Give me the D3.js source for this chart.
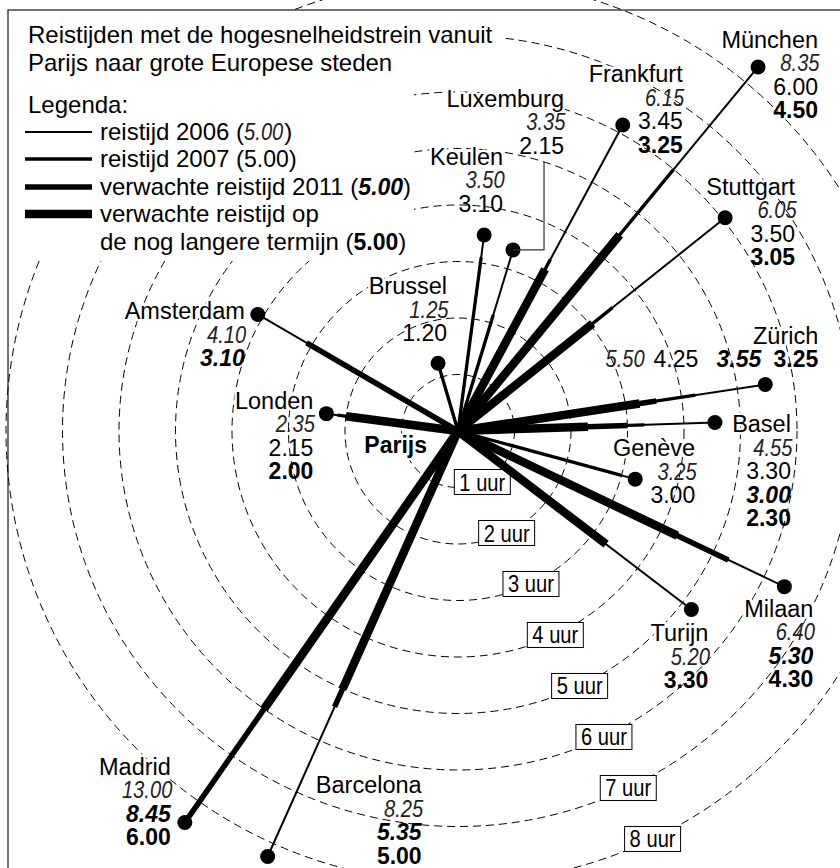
<!DOCTYPE html>
<html>
<head>
<meta charset="utf-8">
<script src="https://cdn.jsdelivr.net/npm/d3@7"></script>
<style>
  body { margin: 0; background: #fff; }
  text { font-family: "Liberation Sans", Arial, sans-serif; fill: #000; }
  .name { font-size: 23.5px; }
  .s2006 { font-style: italic; font-size: 24px; fill: #222; }
  .s2007 { font-size: 23px; }
  .s2011 { font-size: 23px; font-weight: bold; font-style: italic; }
  .slang { font-size: 23px; font-weight: bold; }
  .halo { stroke: #fff; stroke-width: 5px; paint-order: stroke; stroke-linejoin: round; }
  .uur { font-size: 24px; }
  .title { font-size: 24px; }
</style>
</head>
<body>
<div class="chart"></div>
<script>
// Steden en richting (graden, met de klok mee vanaf oost)
const cities = ["Londen", "Amsterdam", "Brussel", "Keulen", "Luxemburg", "Frankfurt", "München",
    "Stuttgart", "Zürich", "Basel", "Genève", "Turijn", "Milaan", "Barcelona", "Madrid"]
const richting = [-172.5, -149.8, -106.4, -82.4, -73.1, -61.7, -50.5,
    -38.6, -8.6, -1.9, 15.2, 37.4, 25.5, 114.1, 124.9]

// Reistijden (uren.minuten)
const reis2006 = [2.35, 4.10, 1.25, 3.50, 3.35, 6.15, 8.35, 6.05, 5.50, 4.55, 3.25, 5.20, 6.40, 8.25, 13.00]
const reis2007 = [2.15, null, 1.20, 3.10, 2.15, 3.45, 6.00, 3.50, 4.25, 3.30, 3.00, null, null, null, null]
const reis2011 = [null, 3.10, null, null, null, null, null, null, 3.55, 3.00, null, null, 5.30, 5.35, 8.45]
const reisLang = [2.00, null, null, null, null, 3.25, 4.50, 3.05, 3.25, 2.30, null, 3.30, 4.30, 5.00, 6.00]

// Cirkels
const uren = [1, 2, 3, 4, 5, 6, 7, 8]

// Label offsets ten opzichte van de stip (layout, geen data)
const labelLayout = {
    "Londen": [-13, -5], "Amsterdam": [-13, 5], "Brussel": [9, -69], "Keulen": [19, -70],
    "Luxemburg": [51, -143], "Frankfurt": [60, -43], "München": [60, -19], "Stuttgart": [70, -23],
    "Zürich": [53, -41], "Basel": [76, 10], "Genève": [60, -23], "Turijn": [17, 32],
    "Milaan": [29, 30], "Barcelona": [154, -63], "Madrid": [-14, -48]
}

const series = [
    { key: "s2006", vals: reis2006, w: 2 },
    { key: "s2007", vals: reis2007, w: 3.3 },
    { key: "s2011", vals: reis2011, w: 5.5 },
    { key: "slang", vals: reisLang, w: 8.5 }
]

const width = 840
const height = 868
const cx = 458
const cy = 431
const maxH = 9
const lineH = 23.5
const narrowK = 0.84
const fmt = d3.format(".2f")

const r = d3.scaleLinear().domain([0, 8]).range([0, 452])

function polar(h, deg) {
    const a = deg * Math.PI / 180
    return [cx + r(h) * Math.cos(a), cy + r(h) * Math.sin(a)]
}

const svg = d3.select('.chart')
    .append('svg')
    .attr('width', width)
    .attr('height', height)

// text squeezed horizontally, like a narrow face
function narrowText(x, y, cls, txt, anchor) {
    return svg.append('text')
        .attr('class', cls)
        .attr('x', x / narrowK).attr('y', y)
        .attr('transform', 'scale(' + narrowK + ',1)')
        .attr('text-anchor', anchor)
        .text(txt)
}

svg.append('rect')
    .attr('width', width).attr('height', height)
    .attr('fill', '#fff')

// frame
svg.append('rect')
    .attr('x', 8).attr('y', 10)
    .attr('width', 880).attr('height', 900)
    .attr('fill', 'none')
    .attr('stroke', '#444')
    .attr('stroke-width', 1.5)

// dashed circles
svg.append('g')
    .selectAll('circle')
    .data(uren)
    .enter()
    .append('circle')
    .attr('cx', cx).attr('cy', cy)
    .attr('r', d => r(d))
    .attr('fill', 'none')
    .attr('stroke', '#000')
    .attr('stroke-width', 1)
    .attr('stroke-dasharray', '8,5')

// white area behind title + legend
svg.append('rect').attr('x', 9).attr('y', 11).attr('width', 494).attr('height', 44).attr('fill', '#fff')
svg.append('rect').attr('x', 9).attr('y', 11).attr('width', 405).attr('height', 250).attr('fill', '#fff')

// hour labels
const uurG = svg.append('g')
    .selectAll('g')
    .data(uren)
    .enter()
    .append('g')
    .attr('transform', d => 'translate(' + polar(d, 64.5) + ')')

uurG.append('rect')
    .attr('x', -28).attr('y', -12.5)
    .attr('width', 56).attr('height', 25)
    .attr('fill', '#fff')
    .attr('stroke', '#000')
    .attr('stroke-width', 1)

uurG.append('text')
    .attr('class', 'uur')
    .attr('text-anchor', 'middle')
    .attr('y', 8.5)
    .attr('transform', 'scale(0.84,1)')
    .text(d => d + ' uur')

// lines per city
const lineG = svg.append('g')
series.forEach(function (s) {
    cities.forEach(function (c, i) {
        const v = s.vals[i]
        if (v == null || v > maxH) return
        const p = polar(v, richting[i])
        lineG.append('line')
            .attr('x1', cx).attr('y1', cy)
            .attr('x2', p[0]).attr('y2', p[1])
            .attr('stroke', '#000')
            .attr('stroke-width', s.w)
    })
})

// dots at the furthest value on the chart
const dotPos = cities.map(function (c, i) {
    const vals = series.map(s => s.vals[i]).filter(v => v != null && v <= maxH)
    return polar(d3.max(vals), richting[i])
})

svg.append('g')
    .selectAll('circle')
    .data(dotPos)
    .enter()
    .append('circle')
    .attr('cx', d => d[0])
    .attr('cy', d => d[1])
    .attr('r', 7.5)
    .attr('fill', '#000')

// Luxemburg leader
const lux = dotPos[cities.indexOf("Luxemburg")]
svg.append('path')
    .attr('d', 'M' + (lux[0] + 31) + ',' + (lux[1] - 88) + 'V' + lux[1] + 'H' + lux[0])
    .attr('fill', 'none')
    .attr('stroke', '#333')
    .attr('stroke-width', 1.2)

// city labels
cities.forEach(function (c, i) {
    const off = labelLayout[c]
    const x = dotPos[i][0] + off[0]
    const y = dotPos[i][1] + off[1]
    svg.append('text')
        .attr('class', 'name halo')
        .attr('x', x).attr('y', y)
        .attr('text-anchor', 'end')
        .text(c)
    const vals = series.filter(s => s.vals[i] != null)
    const rowX = [-175, -120, -57, 0]
    vals.forEach(function (s, j) {
        const tx = c == "Zürich" ? x + rowX[j] : x
        const ty = c == "Zürich" ? y + lineH : y + lineH * (j + 1)
        if (s.key == "s2006") {
            narrowText(tx + 1.5, ty, s.key, fmt(s.vals[i]), 'end')
        } else {
            svg.append('text')
                .attr('class', s.key)
                .attr('x', tx).attr('y', ty)
                .attr('text-anchor', 'end')
                .text(fmt(s.vals[i]))
        }
    })
})

svg.append('text')
    .attr('class', 'slang halo')
    .attr('x', cx - 31).attr('y', cy + 22)
    .attr('text-anchor', 'end')
    .text('Parijs')

// title
svg.append('text').attr('class', 'title').attr('x', 28).attr('y', 43)
    .text('Reistijden met de hogesnelheidstrein vanuit')
svg.append('text').attr('class', 'title').attr('x', 28).attr('y', 71)
    .text('Parijs naar grote Europese steden')
svg.append('text').attr('class', 'title').attr('x', 28).attr('y', 113)
    .text('Legenda:')

// legend
const legRows = [
    { y: 132, pre: 'reistijd 2006 (', post: ')' },
    { y: 159, pre: 'reistijd 2007 (', post: ')' },
    { y: 187, pre: 'verwachte reistijd 2011 (', post: ')' },
    { y: 214, pre: 'verwachte reistijd op', post: '' }
]

series.forEach(function (s, i) {
    const row = legRows[i]
    svg.append('line')
        .attr('x1', 25).attr('x2', 92)
        .attr('y1', row.y).attr('y2', row.y)
        .attr('stroke', '#000')
        .attr('stroke-width', s.w)
    const t = svg.append('text').attr('class', 'title').attr('x', 100).attr('y', row.y + 8)
    t.append('tspan').text(row.pre)
    if (i == 0) {
        // italic narrow value: separate elements
        const w = t.node().getComputedTextLength()
        const v = narrowText(100 + w, row.y + 8, 's2006', '5.00', 'start')
        const vw = v.node().getComputedTextLength() * narrowK
        svg.append('text').attr('class', 'title').attr('x', 100 + w + vw + 1).attr('y', row.y + 8).text(row.post)
    } else if (i < 3) {
        t.append('tspan').attr('class', s.key).text('5.00')
        t.append('tspan').text(row.post)
    }
})

const last = svg.append('text').attr('class', 'title').attr('x', 100).attr('y', 250)
last.append('tspan').text('de nog langere termijn (')
last.append('tspan').attr('class', 'slang').text('5.00')
last.append('tspan').text(')')
</script>
</body>
</html>
